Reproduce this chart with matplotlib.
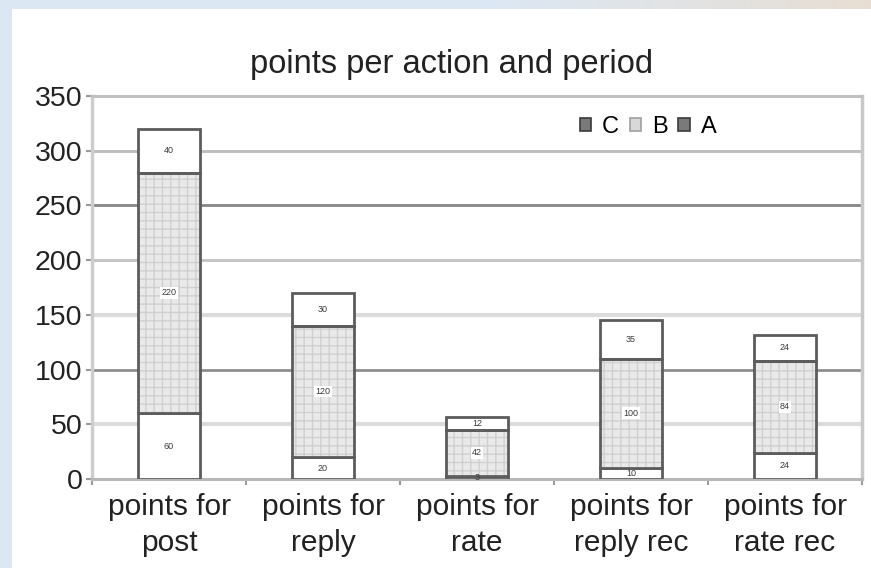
import numpy as np
import matplotlib
matplotlib.use("Agg")
import matplotlib.pyplot as plt
from matplotlib.patches import Patch, Rectangle

plt.rcParams["font.family"] = ["Liberation Sans", "DejaVu Sans"]

# ---- data -------------------------------------------------------------
categories = ["points for\npost", "points for\nreply", "points for\nrate",
              "points for\nreply rec", "points for\nrate rec"]
series_A = [60, 20, 3, 10, 24]
series_B = [220, 120, 42, 100, 84]
series_C = [40, 30, 12, 35, 24]
y_ticks = [0, 50, 100, 150, 200, 250, 300, 350]
title = "points per action and period"

# ---- figure -----------------------------------------------------------
W, H = 871, 568
fig = plt.figure(figsize=(W / 100, H / 100), dpi=100, facecolor="white")

# slide background strips (left and top edges)
bg = fig.add_axes([0, 0, 1, 1], zorder=-10)
bg.set_axis_off()
bg.set_xlim(0, W)
bg.set_ylim(H, 0)
grad = np.linspace(0, 1, 256)
top_colors = np.zeros((1, 256, 3))
c0 = np.array([0.86, 0.91, 0.96])
c1 = np.array([0.91, 0.87, 0.83])
for i, g in enumerate(grad):
    w = np.clip((g - 0.55) / 0.45, 0, 1)
    top_colors[0, i] = c0 * (1 - w) + c1 * w
bg.imshow(top_colors, extent=[0, W, 9, 0], aspect="auto", zorder=0)
bg.add_patch(Rectangle((0, 0), 12, H, color="#dbe8f4", lw=0, zorder=1))

# plot area
x0, x1, yb, yt = 92, 862, 479, 96
ax = fig.add_axes([x0 / W, 1 - yb / H, (x1 - x0) / W, (yb - yt) / H])
ax.set_facecolor("white")

x = np.arange(len(categories))
width = 0.40
edge = "#5c5c5c"

# horizontal grid lines, each with its own tone
grid_style = {50: ("#dcdcdc", 3.0), 100: ("#8e8e8e", 2.0), 150: ("#dcdcdc", 3.0),
              200: ("#c6c6c6", 2.2), 250: ("#858585", 2.0), 300: ("#bfbfbf", 2.2)}
for v, (c, lw) in grid_style.items():
    ax.axhline(v, color=c, lw=lw, zorder=0)

A = np.array(series_A)
B = np.array(series_B)
C = np.array(series_C)

ax.bar(x, A, width, bottom=0, color="white", edgecolor=edge, lw=2.0, zorder=3)
# B: light stippled fill
ax.bar(x, B, width, bottom=A, color="#e9e9e9", edgecolor="#d0d0d0",
       hatch="++", lw=0, zorder=3)
ax.bar(x, B, width, bottom=A, fill=False, edgecolor=edge, lw=2.0, zorder=4)
ax.bar(x, C, width, bottom=A + B, color="white", edgecolor=edge, lw=2.0, zorder=3)

# segment value labels
for i in range(len(x)):
    ax.text(x[i], A[i] / 2, str(A[i]), ha="center", va="center",
            fontsize=6.5, color="#3a3a3a", zorder=6)
    ax.text(x[i], A[i] + B[i] / 2, str(B[i]), ha="center", va="center",
            fontsize=6.5, color="#3a3a3a", zorder=6,
            bbox=dict(facecolor="white", edgecolor="none", pad=1.0))
    ax.text(x[i], A[i] + B[i] + C[i] / 2, str(C[i]), ha="center", va="center",
            fontsize=6.5, color="#3a3a3a", zorder=6)

ax.set_xlim(-0.5, len(categories) - 0.5)
ax.set_ylim(0, 350)
ax.set_yticks(y_ticks)
ax.set_yticklabels([str(v) for v in y_ticks], fontsize=20.5, color="#222222")
ax.tick_params(axis="y", length=4, width=1.5, color="#9a9a9a", pad=3)

# category labels centred on bars, ticks at category boundaries
ax.set_xticks(x)
ax.set_xticklabels(categories, fontsize=21.5, color="#222222", linespacing=1.35)
ax.tick_params(axis="x", length=0, pad=10)
ax.set_xticks(np.arange(len(categories) + 1) - 0.5, minor=True)
ax.tick_params(axis="x", which="minor", length=4, width=1.5, color="#9a9a9a")

for side, c, lw in [("left", "#cdcdcd", 2.5), ("right", "#c8c8c8", 2.5),
                    ("top", "#c0c0c0", 2.2), ("bottom", "#b8b8b8", 2.2)]:
    ax.spines[side].set_color(c)
    ax.spines[side].set_linewidth(lw)

# legend
handles = [Patch(facecolor="#7a7a7a", edgecolor="#3a3a3a", lw=1.2, label="C"),
           Patch(facecolor="#d8d8d8", edgecolor="#a0a0a0", lw=1.2, label="B"),
           Patch(facecolor="#7a7a7a", edgecolor="#3a3a3a", lw=1.2, label="A")]
ax.legend(handles=handles, ncol=3, frameon=False, fontsize=17,
          handlelength=0.5, handleheight=0.5, handletextpad=0.45,
          columnspacing=0.45, loc="center", borderaxespad=0,
          bbox_to_anchor=((648 - x0) / (x1 - x0), (yb - 127) / (yb - yt)))

fig.text(452 / W, 1 - 65 / H, title, ha="center", va="center",
         fontsize=23.5, color="#222222")

fig.savefig("out.png", dpi=100, facecolor=fig.get_facecolor())
